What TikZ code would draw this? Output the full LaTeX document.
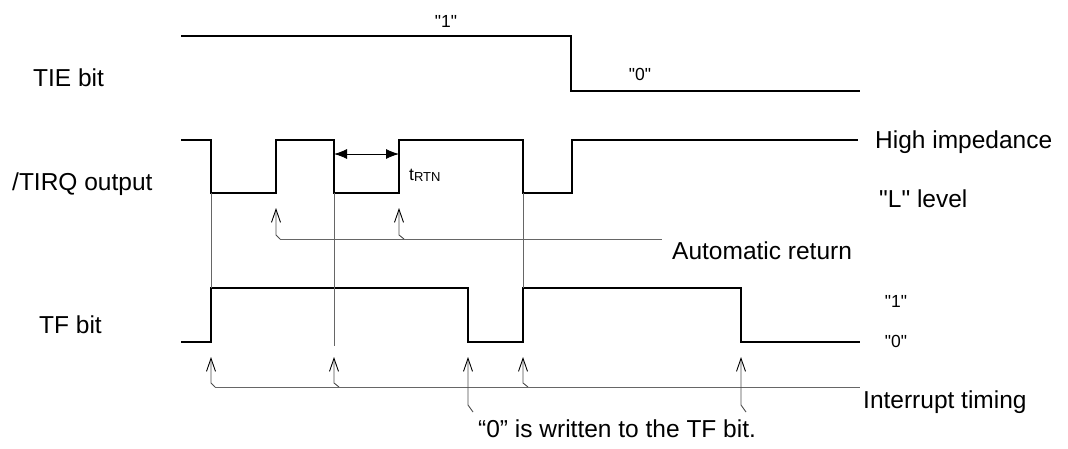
\documentclass[tikz,border=0pt]{standalone}
\usepackage{fontspec}
\setmainfont{Liberation Sans}[Ligatures=TeXOff]
\usetikzlibrary{arrows.meta}

\begin{document}
\begin{tikzpicture}[x=1pt, y=-1pt, line join=miter,
    sig/.style={line width=1.7pt, black},
    guide/.style={line width=0.9pt, black!60},
    tipline/.style={line width=0.9pt, black!70, -{Straight Barb[length=13pt,width=9pt,line width=0.9pt,color=black]}},
    lbl/.style={anchor=base west, inner sep=0pt, font=\fontsize{24.5}{28}\selectfont},
    lvl/.style={anchor=base, inner sep=0pt, font=\fontsize{17.5}{20}\selectfont}]
    \useasboundingbox (0,0) rectangle (1068,448);

    % 左侧信号名称
    \node[lbl] (tie) at (33,86) {TIE bit};
    \node[lbl] (tirq) at (12,190) {/TIRQ output};
    \node[lbl] (tf) at (39,333) {TF bit};

    % 1. TIE bit 波形
    \draw[sig] (181,36) -- (571,36) -- (571,91) -- (860,91);
    \node[lvl] (tieone) at (446,27) {"1"};
    \node[lvl] (tiezero) at (640,80) {"0"};

    % 2. /TIRQ output 波形
    \draw[sig] (181,140) -- (211,140) -- (211,193) -- (276,193) -- (276,140)
        -- (334,140) -- (334,193) -- (399,193) -- (399,140) -- (523,140)
        -- (523,193) -- (572,193) -- (572,140) -- (858,140);
    \node[lbl] (hiz) at (875,148) {High impedance};
    \node[lbl] (llvl) at (879,207) {"L" level};

    % tRTN 间隔
    \coordinate (R1) at (334,154);
    \coordinate (R2) at (399,154);
    \draw[line width=0.9pt, {Latex[length=13pt,width=10pt]}-{Latex[length=13pt,width=10pt]}] (R1) -- (R2);
    \node[anchor=base west, inner sep=0pt, font=\fontsize{17.5}{20}\selectfont] (trtn) at (409,180)
        {t\raisebox{-1pt}{\fontsize{13}{13}\selectfont RTN}};

    % 3. TF bit 波形
    \draw[sig] (181,342) -- (211,342) -- (211,288) -- (468,288) -- (468,342)
        -- (523,342) -- (523,288) -- (741,288) -- (741,342) -- (860,342);
    \node[lvl] (tfone) at (896,307) {"1"};
    \node[lvl] (tfzero) at (896,347) {"0"};

    % 中断时刻的竖直参考线
    \draw[guide] (211,193) -- (211,288);
    \draw[guide] (334,193) -- (334,346);
    \draw[guide] (523,193) -- (523,288);

    % 自动返回 (Automatic return)
    \coordinate (A1) at (276,208);
    \coordinate (A2) at (399,208);
    \coordinate (AL) at (280,239);
    \coordinate (AR) at (662,239);
    \draw[guide] (AL) -- (AR);
    \draw[tipline] (AL) -- (276,235) -- (A1);
    \draw[tipline] (404,239) -- (399,235) -- (A2);
    \node[lbl] (auto) at (672,259) {Automatic return};

    % 中断时刻 (Interrupt timing)
    \coordinate (I1) at (211,357);
    \coordinate (I2) at (334,357);
    \coordinate (I3) at (468,357);
    \coordinate (I4) at (523,357);
    \coordinate (I5) at (741,357);
    \coordinate (IL) at (215,387);
    \coordinate (IR) at (860,387);
    \draw[guide] (IL) -- (IR);
    \draw[tipline] (IL) -- (211,383) -- (I1);
    \draw[tipline] (339,387) -- (334,383) -- (I2);
    \draw[tipline] (528,387) -- (523,383) -- (I4);
    \node[lbl] (intr) at (863,408) {Interrupt timing};

    % 写入 "0" 的时刻
    \draw[tipline] (473,412) -- (468,405) -- (I3);
    \draw[tipline] (746,412) -- (741,405) -- (I5);
    \node[lbl] (wr) at (478,437) {“0” is written to the TF bit.};
\end{tikzpicture}
\end{document}
